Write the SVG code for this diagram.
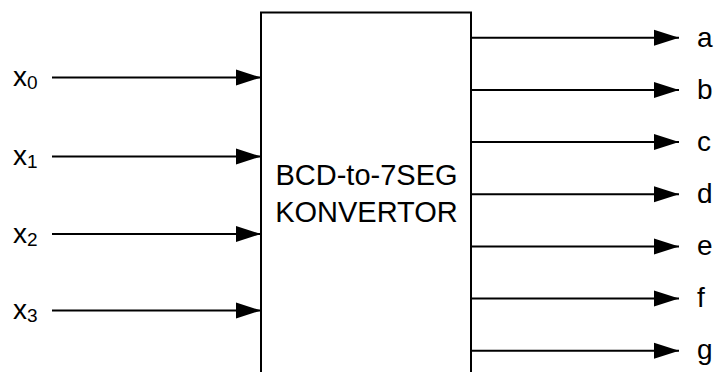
<svg xmlns="http://www.w3.org/2000/svg" width="717" height="372" viewBox="0 0 717 372">
<defs>
<style>
.ln{stroke:#000;stroke-width:2;fill:none}
.ah{fill:#000}
text{font-family:"Liberation Sans",Arial,sans-serif;fill:#000}
.lbl{font-size:28px}
.sub{font-size:19px}
.main{font-size:29px}
</style>
<marker id="arr" markerUnits="userSpaceOnUse" markerWidth="26" markerHeight="18" refX="25" refY="8.5" orient="auto" viewBox="0 0 26 18">
<path d="M0,0.5 L25,8.5 L0,16.5 Z" class="ah"/>
</marker>
</defs>
<rect width="717" height="372" fill="#fff"/>
<g id="converter">
<rect x="261" y="12.5" width="210" height="380" fill="#fff" stroke="#000" stroke-width="2"/>
<text class="main" x="366.5" y="185" text-anchor="middle">BCD-to-7SEG</text>
<text class="main" x="366.5" y="221.5" text-anchor="middle">KONVERTOR</text>
</g>
<g id="connectors">
<line class="ln" x1="52" y1="77.5" x2="261" y2="77.5" marker-end="url(#arr)"/>
<line class="ln" x1="52" y1="156.5" x2="261" y2="156.5" marker-end="url(#arr)"/>
<line class="ln" x1="52" y1="234" x2="261" y2="234" marker-end="url(#arr)"/>
<line class="ln" x1="52" y1="310.5" x2="261" y2="310.5" marker-end="url(#arr)"/>
<line class="ln" x1="471" y1="37.7" x2="679" y2="37.7" marker-end="url(#arr)"/>
<line class="ln" x1="471" y1="89.9" x2="679" y2="89.9" marker-end="url(#arr)"/>
<line class="ln" x1="471" y1="142" x2="679" y2="142" marker-end="url(#arr)"/>
<line class="ln" x1="471" y1="194.2" x2="679" y2="194.2" marker-end="url(#arr)"/>
<line class="ln" x1="471" y1="246.4" x2="679" y2="246.4" marker-end="url(#arr)"/>
<line class="ln" x1="471" y1="298.5" x2="679" y2="298.5" marker-end="url(#arr)"/>
<line class="ln" x1="471" y1="350.7" x2="679" y2="350.7" marker-end="url(#arr)"/>
</g>
<g id="input-x0"><text class="lbl" x="13" y="86">x<tspan class="sub" dy="3">0</tspan></text></g>
<g id="input-x1"><text class="lbl" x="13" y="165">x<tspan class="sub" dy="3">1</tspan></text></g>
<g id="input-x2"><text class="lbl" x="13" y="242.5">x<tspan class="sub" dy="3">2</tspan></text></g>
<g id="input-x3"><text class="lbl" x="13" y="319">x<tspan class="sub" dy="3">3</tspan></text></g>
<g id="output-a"><text class="lbl" x="697" y="46.5">a</text></g>
<g id="output-b"><text class="lbl" x="697" y="98.5">b</text></g>
<g id="output-c"><text class="lbl" x="697" y="150.5">c</text></g>
<g id="output-d"><text class="lbl" x="697" y="202.5">d</text></g>
<g id="output-e"><text class="lbl" x="697" y="254.5">e</text></g>
<g id="output-f"><text class="lbl" x="697" y="306.5">f</text></g>
<g id="output-g"><text class="lbl" x="697" y="358.5">g</text></g>
</svg>
